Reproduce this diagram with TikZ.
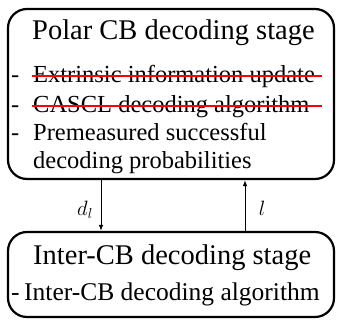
\documentclass[tikz,border=0pt]{standalone}
\usepackage{fontspec}
\setmainfont{Liberation Serif}
\usetikzlibrary{arrows.meta}
\tikzset{
  stagebox/.style={draw=black, line width=2.2pt, rounded corners=19pt, inner sep=0pt},
  headtext/.style={anchor=base west, inner sep=0pt, font=\fontsize{28.5}{32}\selectfont},
  itemtext/.style={anchor=base west, inner sep=0pt, font=\fontsize{24.5}{28}\selectfont},
  strike/.style={draw=red, line width=1.3pt},
  flow/.style={draw=black, line width=0.9pt, -{Latex[length=6pt,width=4.5pt]}},
  sig/.style={anchor=base, inner sep=0pt, font=\fontsize{20}{24}\selectfont}
}
\begin{document}
\begin{tikzpicture}[x=1pt, y=-1pt]
  \useasboundingbox (0,0) rectangle (337,321);
  % the two stage boxes
  \node[stagebox, minimum width=326pt, minimum height=170pt] (top) at (171,94) {};
  \node[stagebox, minimum width=326pt, minimum height=85pt] (bot) at (171,274.5) {};
  % upper stage contents
  \node[headtext] (t1) at (32,40) {Polar CB decoding stage};
  \node[itemtext] (d1) at (11,82) {-};
  \node[itemtext] (i1) at (33,82) {Extrinsic information update};
  \node[itemtext] (d2) at (11,112) {-};
  \node[itemtext] (i2) at (33,112) {CASCL decoding algorithm};
  \node[itemtext] (d3) at (11,140) {-};
  \node[itemtext] (i3) at (33,140) {Premeasured successful};
  \node[itemtext] (i4) at (33,168) {decoding probabilities};
  \draw[strike] (32,76) -- (322,76);
  \draw[strike] (32,106) -- (322,106);
  % lower stage contents
  \node[headtext] (t2) at (33,264) {Inter-CB decoding stage};
  \node[itemtext, font=\fontsize{25.5}{29}\selectfont] (d5) at (11,300) {-};
  \node[itemtext, font=\fontsize{25.5}{29}\selectfont] (i5) at (24,300) {Inter-CB decoding algorithm};
  % exchange between the stages
  \coordinate (xa) at (101,0);
  \coordinate (xb) at (245,0);
  \draw[flow] (top.south -| xa) -- (bot.north -| xa);
  \draw[flow] (bot.north -| xb) -- (top.south -| xb);
  \node[sig] (dl) at (85,215) {$d_l$};
  \node[sig] (ll) at (262,215) {$l$};
\end{tikzpicture}
\end{document}
